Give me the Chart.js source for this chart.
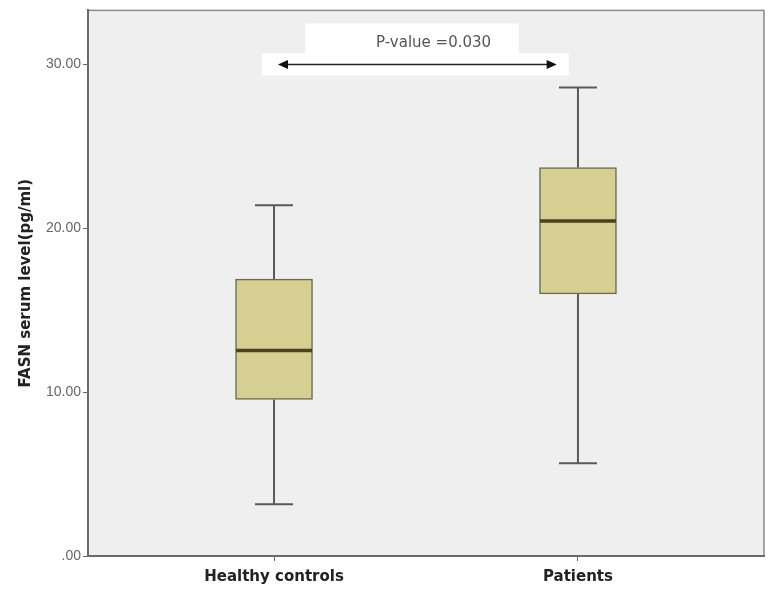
<!DOCTYPE html>
<html>
<head>
<meta charset="utf-8">
<script src="https://cdn.jsdelivr.net/npm/chart.js@4.4.1/dist/chart.umd.min.js"></script>
<style>
  html, body { margin: 0; padding: 0; background: #fff; }
  #wrap { width: 772px; height: 589px; position: relative; }
</style>
</head>
<body>
<div id="wrap"><canvas id="chart"></canvas></div>
<script>
// box plot values (FASN serum level, pg/ml)
const groups = ['Healthy controls', 'Patients'];
const whiskerLow = [3.16, 5.66];
const q1 = [9.55, 16.0];
const median = [12.54, 20.45];
const q3 = [16.9, 23.7];
const whiskerHigh = [21.4, 28.6];
const yTicks = [0, 10, 20, 30];
const pValueText = 'P-value =0.030';

const boxData = groups.map((g, i) => ({ x: i, y: [q1[i], q3[i]] }));

// plot background + frame
const plotBg = {
  id: 'plotBg',
  beforeDraw(chart) {
    const { ctx, chartArea: a } = chart;
    ctx.save();
    ctx.fillStyle = '#efefef';
    ctx.fillRect(a.left, a.top, a.right - a.left, a.bottom - a.top);
    ctx.strokeStyle = '#8a8a8a';
    ctx.lineWidth = 1.5;
    ctx.strokeRect(a.left, a.top, a.right - a.left, a.bottom - a.top);
    ctx.restore();
  }
};

// whiskers, caps and median lines
const boxExtras = {
  id: 'boxExtras',
  beforeDatasetsDraw(chart) {
    const { ctx } = chart;
    const xs = chart.scales.x, ys = chart.scales.y;
    ctx.save();
    ctx.strokeStyle = '#5a5a5a';
    ctx.lineWidth = 2;
    groups.forEach((g, i) => {
      const cx = xs.getPixelForValue(i);
      ctx.beginPath();
      ctx.moveTo(cx, ys.getPixelForValue(whiskerLow[i]));
      ctx.lineTo(cx, ys.getPixelForValue(q1[i]));
      ctx.moveTo(cx, ys.getPixelForValue(q3[i]));
      ctx.lineTo(cx, ys.getPixelForValue(whiskerHigh[i]));
      [whiskerLow[i], whiskerHigh[i]].forEach(v => {
        const py = ys.getPixelForValue(v);
        ctx.moveTo(cx - 19, py);
        ctx.lineTo(cx + 19, py);
      });
      ctx.stroke();
    });
    ctx.restore();
  },
  afterDatasetsDraw(chart) {
    const { ctx } = chart;
    const xs = chart.scales.x, ys = chart.scales.y;
    ctx.save();
    ctx.strokeStyle = '#4a4120';
    ctx.lineWidth = 3.5;
    groups.forEach((g, i) => {
      const cx = xs.getPixelForValue(i);
      const py = ys.getPixelForValue(median[i]);
      ctx.beginPath();
      ctx.moveTo(cx - 38, py);
      ctx.lineTo(cx + 38, py);
      ctx.stroke();
    });

    // p-value annotation
    const yArrow = ys.getPixelForValue(30);
    const xa = xs.getPixelForValue(0.013), xb = xs.getPixelForValue(0.93);
    ctx.fillStyle = '#ffffff';
    ctx.fillRect(xs.getPixelForValue(0.102), yArrow - 41, xs.getPixelForValue(0.805) - xs.getPixelForValue(0.102), 31);
    ctx.fillRect(xs.getPixelForValue(-0.04), yArrow - 11, xs.getPixelForValue(0.97) - xs.getPixelForValue(-0.04), 22);
    ctx.fillStyle = '#555';
    ctx.font = '15px "DejaVu Sans", sans-serif';
    ctx.textAlign = 'center';
    ctx.textBaseline = 'middle';
    ctx.fillText(pValueText, xs.getPixelForValue(0.525), yArrow - 21);
    ctx.strokeStyle = '#222';
    ctx.lineWidth = 1.5;
    ctx.beginPath();
    ctx.moveTo(xa + 4, yArrow);
    ctx.lineTo(xb - 4, yArrow);
    ctx.stroke();
    ctx.fillStyle = '#111';
    [[xa, 1], [xb, -1]].forEach(([x, d]) => {
      ctx.beginPath();
      ctx.moveTo(x, yArrow);
      ctx.lineTo(x + 10 * d, yArrow - 4.5);
      ctx.lineTo(x + 10 * d, yArrow + 4.5);
      ctx.closePath();
      ctx.fill();
    });
    ctx.restore();
  }
};

new Chart(document.getElementById('chart'), {
  type: 'bar',
  data: {
    datasets: [{
      data: boxData,
      backgroundColor: '#d6cf92',
      borderColor: '#6e6a50',
      borderWidth: 1.5,
      borderSkipped: false,
      barThickness: 77
    }]
  },
  options: {
    responsive: true,
    maintainAspectRatio: false,
    animation: false,
    layout: { padding: { top: 9, right: 8, left: 0, bottom: 0 } },
    plugins: {
      legend: { display: false },
      tooltip: { enabled: false }
    },
    scales: {
      x: {
        type: 'linear',
        min: -0.612,
        max: 1.612,
        offset: false,
        afterBuildTicks: s => { s.ticks = groups.map((g, i) => ({ value: i })); },
        afterFit: s => { s.height = 33; },
        grid: { offset: false, drawOnChartArea: false, tickLength: 5, tickColor: '#666', lineWidth: 1 },
        border: { display: true, color: '#6a6a6a', width: 2 },
        ticks: {
          padding: 7,
          color: '#222',
          font: { family: '"DejaVu Sans", sans-serif', size: 15, weight: 'bold' },
          callback: v => groups[v]
        }
      },
      y: {
        min: 0,
        max: 33.3,
        afterBuildTicks: s => { s.ticks = yTicks.map(v => ({ value: v })); },
        afterFit: s => { s.width = 88; },
        grid: { drawOnChartArea: false, tickLength: 5, tickColor: '#666', lineWidth: 1 },
        border: { display: true, color: '#6a6a6a', width: 2 },
        ticks: {
          padding: 2,
          color: '#666',
          font: { family: '"Liberation Sans", Arial, sans-serif', size: 14 },
          callback: v => v === 0 ? '.00' : v.toFixed(2)
        },
        title: {
          display: true,
          text: 'FASN serum level(pg/ml)',
          color: '#222',
          padding: { top: 17, bottom: 0 },
          font: { family: '"DejaVu Sans", sans-serif', size: 15, weight: 'bold' }
        }
      }
    }
  },
  plugins: [plotBg, boxExtras]
});
</script>
</body>
</html>
